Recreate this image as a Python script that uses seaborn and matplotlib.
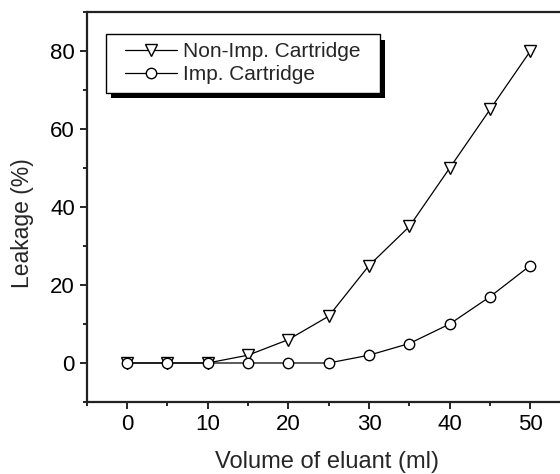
import matplotlib
matplotlib.use("Agg")
import matplotlib.pyplot as plt
import matplotlib.patheffects as pe
from matplotlib.ticker import MultipleLocator
from matplotlib.legend_handler import HandlerLine2D
import seaborn as sns
import pandas as pd

volume = [0, 5, 10, 15, 20, 25, 30, 35, 40, 45, 50]
non_imp = [0, 0, 0, 2, 6, 12, 25, 35, 50, 65, 80]
imp = [0, 0, 0, 0, 0, 0, 2, 5, 10, 17, 25]
labels = ["Non-Imp. Cartridge", "Imp. Cartridge"]

sns.set_style("ticks")
plt.rcParams['font.family'] = ['Liberation Sans', 'DejaVu Sans']

fig = plt.figure(figsize=(5.6, 4.74), dpi=100)
ax = fig.add_axes([86.7/560, 72/474, 484/560, 390/474])

df1 = pd.DataFrame({"x": volume, "y": non_imp})
df2 = pd.DataFrame({"x": volume, "y": imp})
sns.lineplot(data=df1, x="x", y="y", ax=ax, color="black", lw=0.9, marker="v",
             markersize=8.5, markerfacecolor="white", markeredgecolor="black",
             markeredgewidth=1.0, label=labels[0])
sns.lineplot(data=df2, x="x", y="y", ax=ax, color="black", lw=0.9, marker="o",
             markersize=7.5, markerfacecolor="white", markeredgecolor="black",
             markeredgewidth=1.0, label=labels[1])

ax.set_xlim(-5, 55)
ax.set_ylim(-10, 90)
ax.xaxis.set_major_locator(MultipleLocator(10))
ax.xaxis.set_minor_locator(MultipleLocator(5))
ax.yaxis.set_major_locator(MultipleLocator(20))
ax.yaxis.set_minor_locator(MultipleLocator(10))
ax.tick_params(which="major", direction="out", length=5, width=1.2, labelsize=16, color="black", labelcolor="black")
ax.tick_params(which="minor", direction="out", length=3, width=1.2, color="black")
for s in ax.spines.values():
    s.set_visible(True)
    s.set_linewidth(1.6)
    s.set_color("#222222")

ax.set_xlabel("Volume of eluant (ml)", fontsize=17)
ax.set_ylabel("Leakage (%)", fontsize=16.5)
ax.xaxis.set_label_coords(0.5 - 2/484, -49/390)
ax.yaxis.set_label_coords(-53/484, 179/390)

handles, _ = ax.get_legend_handles_labels()
hm = {h: HandlerLine2D(xpad=0.51) for h in handles}
leg = ax.legend(handles, [l + "  " for l in labels], handler_map=hm,
                loc="upper left", bbox_to_anchor=(19/484, 1 - 22/390), borderaxespad=0,
                fontsize=15, frameon=True, fancybox=False, handlelength=3.0,
                handletextpad=0.29, borderpad=0.4, labelspacing=0.2)
fr = leg.get_frame()
fr.set_edgecolor("black")
fr.set_linewidth(1.0)
fr.set_alpha(1)
fr.set_path_effects([pe.SimplePatchShadow(offset=(4, -4), shadow_rgbFace="black", alpha=1.0), pe.Normal()])

fig.savefig("out.png", dpi=100)
